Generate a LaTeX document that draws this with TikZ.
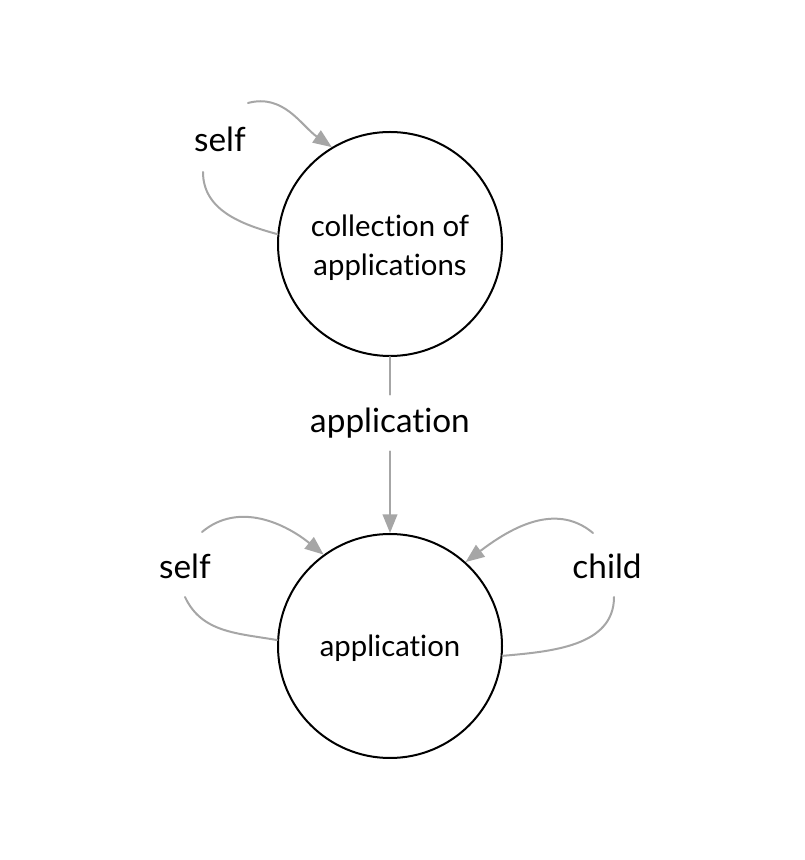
\documentclass[tikz,border=0pt]{standalone}
\usepackage{fontspec}
\setmainfont[Ligatures=NoCommon]{Lato}
\usetikzlibrary{arrows.meta}
\definecolor{linkgray}{RGB}{166,166,166}

\begin{document}
\begin{tikzpicture}[x=0.75pt,y=0.75pt,>={Triangle[length=14pt,width=11pt]},line cap=round,
  state/.style={draw,circle,line width=1.5pt,minimum size=168pt,inner sep=0pt,align=center,font=\fontsize{22}{29}\selectfont},
  tag/.style={inner sep=10pt,outer sep=0pt,font=\fontsize{25}{30}\selectfont},
  link/.style={draw=linkgray,line width=1.5pt}]
\useasboundingbox (0,0) rectangle (804,860);
% the two states
\node[state] (coll) at (390,616) {};
\node[align=center,font=\fontsize{22}{29}\selectfont] (colltext) at (390,612) {collection of\\applications};
\node[state] (app) at (390,214) {};
\node[font=\fontsize{22}{29}\selectfont] (apptext) at (390,212) {application};
% labels on the links
\node[tag] (selfa) at (220,721) {self};
\node[tag] (appl) at (390,437) {application};
\node[tag] (selfb) at (185,294) {self};
\node[tag] (child) at (607,294) {child};
% self link of the collection
\draw[link] (coll.175) to[out=165,in=-90] ([shift={(-17,-33)}]selfa.center);
\draw[link,->] ([shift={(28,36)}]selfa.center) to[out=15,in=145] (coll.121);
% collection to application
\draw[link] (coll) -- (appl);
\draw[link,->] (appl) -- (app);
% self link of the application
\draw[link] (app.177) to[out=170,in=-65] ([shift={(0,-31)}]selfb.center);
\draw[link,->] ([shift={(17,34)}]selfb.center) to[out=40,in=141] (app.126);
% child link
\draw[link] (app.-5) to[out=5,in=-90] ([shift={(7,-31)}]child.center);
\draw[link,->] ([shift={(-14,33)}]child.center) to[out=140,in=37] (app.48);
\end{tikzpicture}
\end{document}
